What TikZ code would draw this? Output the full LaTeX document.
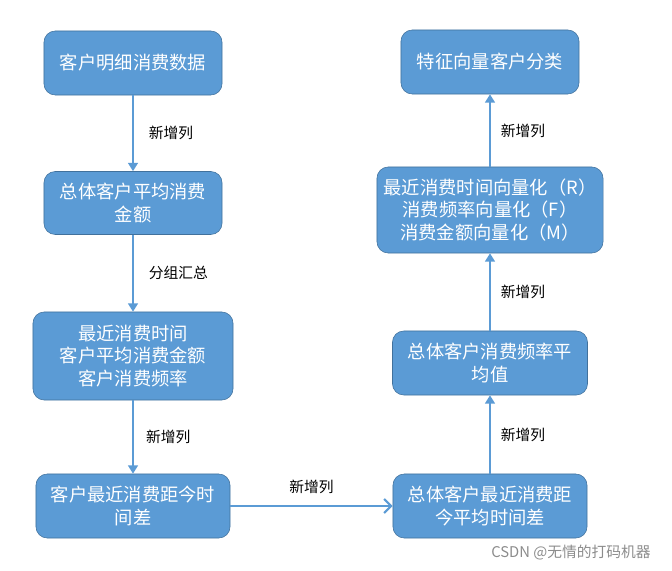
\documentclass[tikz,border=0pt]{standalone}
\usepackage{fontspec}
\setmainfont{Noto Sans CJK SC}
\usetikzlibrary{arrows.meta}

\definecolor{boxblue}{HTML}{5B9BD5}
\definecolor{boxedge}{HTML}{41719C}

\begin{document}
\begin{tikzpicture}[x=0.025cm,y=-0.025cm,
  box/.style={draw=boxedge,fill=boxblue,rounded corners=8pt,text=white,
    font=\fontsize{13}{16}\selectfont,align=center,inner sep=0pt},
  flow/.style={draw=boxblue,line width=1.5pt,-{Triangle[length=6pt,width=7pt]}},
  side/.style={draw=boxblue,line width=1.5pt,-{Straight Barb[length=5pt,width=10pt]}},
  lbl/.style={font=\fontsize{10.5}{12}\selectfont,text=black,inner sep=0pt}]

\useasboundingbox (0,0) rectangle (672,571);

% Left column
\node[box,minimum width=4.45cm,minimum height=1.6cm] (data) at (133,63) {客户明细消费数据};
\node[box,minimum width=4.45cm,minimum height=1.575cm] (avgamt) at (133,203) {总体客户平均消费\\金额};
\node[box,minimum width=5cm,minimum height=2.2cm] (group) at (133,356) {最近消费时间\\客户平均消费金额\\客户消费频率};
\node[box,minimum width=4.85cm,minimum height=1.6cm] (diff) at (133,506) {客户最近消费距今时\\间差};

% Right column
\node[box,minimum width=4.85cm,minimum height=1.6cm] (avgdiff) at (490,506) {总体客户最近消费距\\今平均时间差};
\node[box,minimum width=4.875cm,minimum height=1.6cm] (avgfreq) at (490,363) {总体客户消费频率平\\均值};
\node[box,minimum width=5.65cm,minimum height=2.15cm] (vec) at (490,210) {最近消费时间向量化（R）\\消费频率向量化（F）\\消费金额向量化（M）};
\node[box,minimum width=4.45cm,minimum height=1.6cm] (cls) at (490,62) {特征向量客户分类};

% Connectors
\draw[flow] (data) -- node[lbl,right=10.5pt] {新增列} (avgamt);
\draw[flow] (avgamt) -- node[lbl,right=10.5pt] {分组汇总} (group);
\draw[flow] (group) -- node[lbl,right=8.5pt] {新增列} (diff);
\draw[side] (diff) -- node[lbl,above=8pt] {新增列} (avgdiff);
\draw[flow] (avgdiff) -- node[lbl,right=7pt] {新增列} (avgfreq);
\draw[flow] (avgfreq) -- node[lbl,right=7pt] {新增列} (vec);
\draw[flow] (vec) -- node[lbl,right=7pt] {新增列} (cls);

% Watermark
\node[font=\fontsize{10.5}{12}\selectfont,text=black!45] (mark) at (571,553) {CSDN @无情的打码机器};

\end{tikzpicture}
\end{document}
